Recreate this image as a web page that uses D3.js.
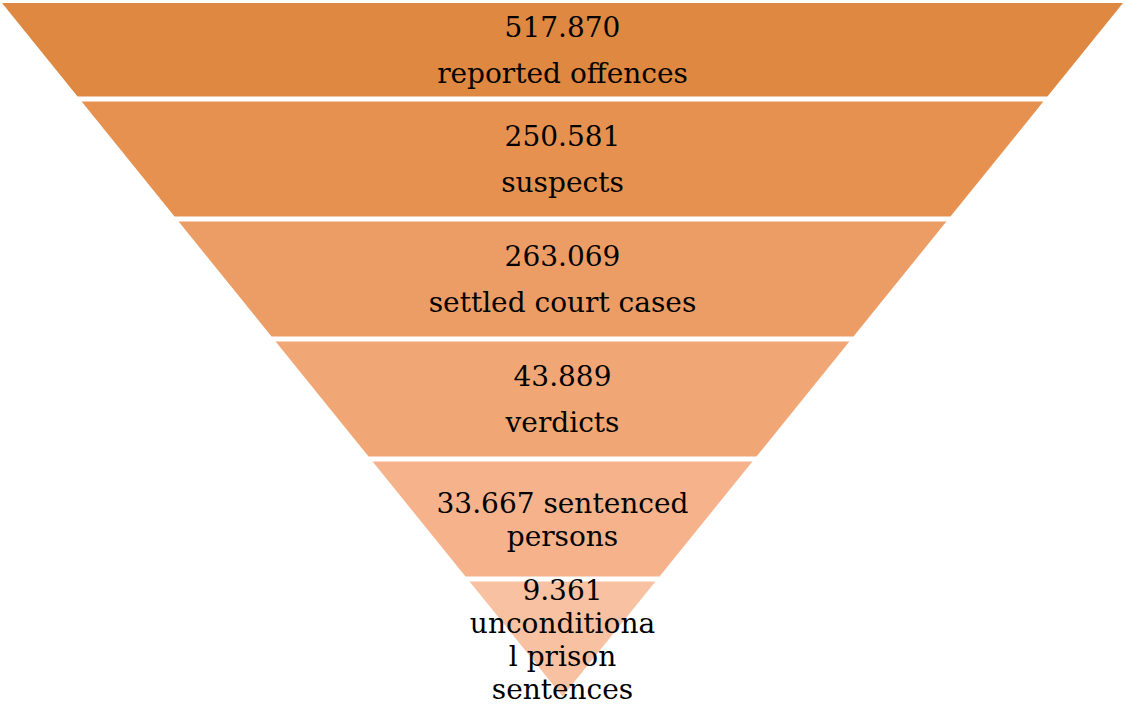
<!DOCTYPE html>
<html>
<head>
<meta charset="utf-8">
<script src="https://cdn.jsdelivr.net/npm/d3@7"></script>
<style>
  html, body { margin: 0; padding: 0; background: #fff; }
  svg { display: block; }
</style>
</head>
<body>
<script>
// funnel data
var categories = ["reported offences", "suspects", "settled court cases", "verdicts", "sentenced persons", "unconditional prison sentences"];
var values = [517870, 250581, 263069, 43889, 33667, 9361];
var colors = ["#df8841", "#e6914f", "#ec9c65", "#f1a775", "#f5b28b", "#f8c1a1"];
// how the text breaks inside the narrow bottom bands (as in the original)
var wrapped = [null, null, null, null, ["{v} sentenced", "persons"], ["{v}", "unconditiona", "l prison", "sentences"]];

var width = 1125, height = 706;
var fmt = d3.formatLocale({ decimal: ",", thousands: ".", grouping: [3], currency: ["", ""] }).format(",");

var svg = d3.select("body").append("svg")
    .attr("width", width)
    .attr("height", height);

// vertical bands (the top one is cut by the edge of the picture)
var y = d3.scaleBand()
    .domain(categories)
    .range([-18.5, 696.5])
    .paddingInner(5 / 120)
    .paddingOuter(0);
var visibleTop = 3;
var apexY = 696.5;
var cx = width / 2;
// half width of the triangle at a given y
var half = d3.scaleLinear()
    .domain([apexY, visibleTop])
    .range([0, 560.5]);

var rows = categories.map(function (c, i) {
  var t = Math.max(y(c), visibleTop);
  var b = y(c) + y.bandwidth();
  return { cat: c, value: values[i], color: colors[i], top: t, bottom: b, i: i };
});

var g = svg.append("g");
g.selectAll("path.seg")
  .data(rows)
  .enter().append("path")
    .attr("class", "seg")
    .attr("fill", function (d) { return d.color; })
    .attr("d", function (d) {
      var ht = half(d.top), hb = half(d.bottom);
      return "M" + (cx - ht) + "," + d.top + "L" + (cx + ht) + "," + d.top +
             "L" + (cx + hb) + "," + d.bottom + "L" + (cx - hb) + "," + d.bottom + "Z";
    });

// labels
var lineGap = 33, paraGap = 46;
rows.forEach(function (d) {
  var lines, gap;
  if (wrapped[d.i]) {
    lines = wrapped[d.i].map(function (s) { return s.replace("{v}", fmt(d.value)); });
    gap = lineGap;
  } else {
    lines = [fmt(d.value), d.cat];
    gap = paraGap;
  }
  var mid = (d.top + d.bottom) / 2 + 10;
  var n = lines.length;
  g.selectAll(null)
    .data(lines)
    .enter().append("text")
      .attr("x", cx)
      .attr("y", function (s, k) { return mid + (k - (n - 1) / 2) * gap; })
      .attr("text-anchor", "middle")
      .attr("font-family", "'DejaVu Serif', serif")
      .attr("font-size", 28)
      .attr("fill", "#000")
      .text(function (s) { return s; });
});
</script>
</body>
</html>
